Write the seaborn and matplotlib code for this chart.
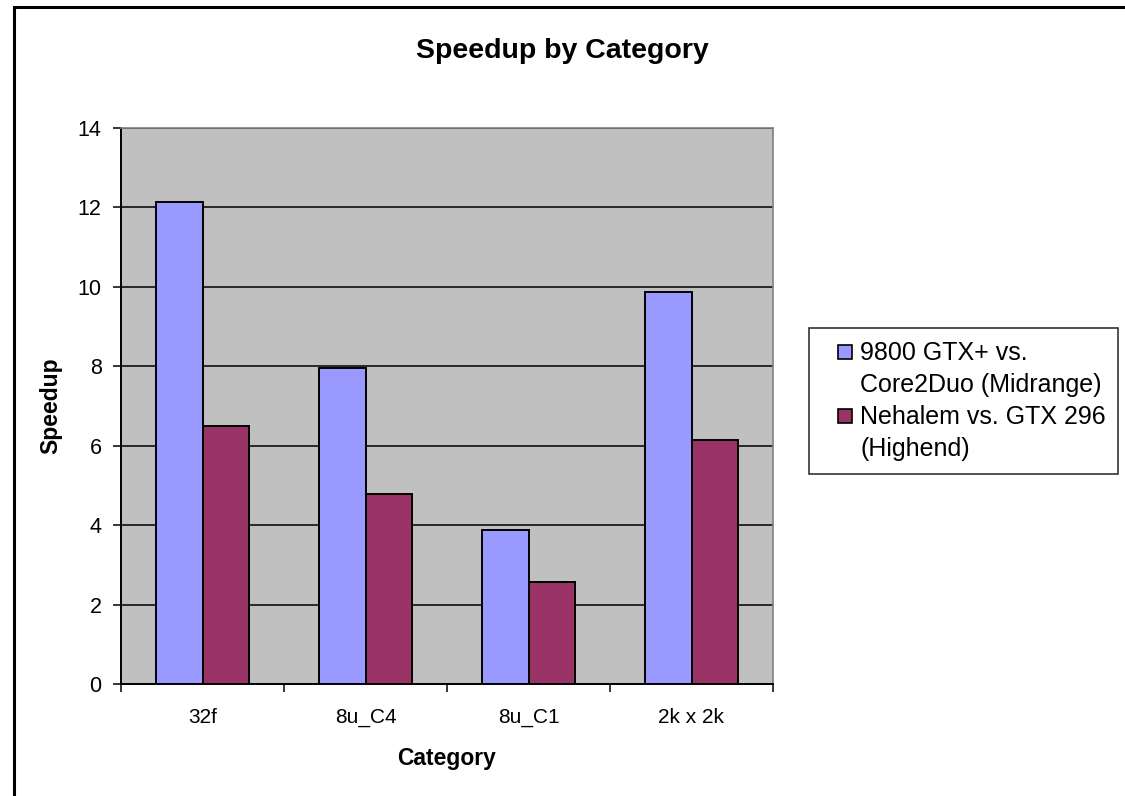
import numpy as np
import pandas as pd
import matplotlib
matplotlib.use("Agg")
import matplotlib.pyplot as plt
import seaborn as sns
from matplotlib.patches import Rectangle
from matplotlib.legend_handler import HandlerPatch

# data
categories = ['32f', '8u_C4', '8u_C1', '2k x 2k']
series_names = ['9800 GTX+ vs.\nCore2Duo (Midrange)', 'Nehalem vs. GTX 296\n(Highend)']
midrange = [12.13, 7.95, 3.88, 9.86]
highend = [6.49, 4.78, 2.57, 6.14]
colors = ['#9999FF', '#993366']

df = pd.DataFrame({
    'Category': categories * 2,
    'Speedup': midrange + highend,
    'Series': [series_names[0]] * 4 + [series_names[1]] * 4,
})

sns.set_style("white")
plt.rcParams['font.family'] = ['Liberation Sans', 'DejaVu Sans']
plt.rcParams.update({'text.color': 'black', 'axes.labelcolor': 'black',
                     'xtick.color': 'black', 'ytick.color': 'black'})

fig = plt.figure(figsize=(11.25, 7.96), dpi=100)
ax = fig.add_axes([121 / 1125, 1 - 684 / 796, (773 - 121) / 1125, (684 - 128) / 796])
ax.set_facecolor('#C0C0C0')

sns.barplot(data=df, x='Category', y='Speedup', hue='Series', order=categories,
            hue_order=series_names, palette=colors, width=0.572, gap=0,
            edgecolor='black', linewidth=1.4, saturation=1, ax=ax, zorder=3)

ax.set_ylim(0, 14)
ax.set_xlim(-0.5, 3.5)
ax.set_yticks(np.arange(0, 15, 2))
ax.yaxis.grid(True, color='black', linewidth=1.1, zorder=1)
ax.set_axisbelow(True)

# Excel-style ticks between categories
ax.set_xticks(np.arange(-0.5, 4, 1), minor=True)
ax.tick_params(axis='x', which='major', length=0, pad=17.5, labelsize=15, labelcolor='black')
ax.tick_params(axis='x', which='minor', length=6, width=1.1, direction='out', color='black')
ax.tick_params(axis='y', length=6, width=1.1, direction='out', color='black',
               labelcolor='black', labelsize=15.5, pad=8)
ax.xaxis.set_ticks_position('bottom')
ax.yaxis.set_ticks_position('left')

for side in ['left', 'bottom']:
    ax.spines[side].set_color('black')
    ax.spines[side].set_linewidth(1.4)
for side in ['top', 'right']:
    ax.spines[side].set_color('#808080')
    ax.spines[side].set_linewidth(1.2)

ax.set_xlabel('Category', fontsize=16.5, fontweight='bold', labelpad=14, color='black')
ax.set_ylabel('Speedup', fontsize=16.5, fontweight='bold', color='black')
ax.yaxis.set_label_coords(-0.09, 0.5)

fig.text(0.5, 1 - 51 / 796, 'Speedup by Category', ha='center', va='center',
         fontsize=20.5, fontweight='bold', color='black')


# small square marker sitting at the right of the handle box, level with the first text line
def square_patch(legend, orig_handle, xdescent, ydescent, width, height, fontsize):
    s = 10
    return Rectangle((width - s - xdescent, (height - s) / 2 - ydescent + 12.5), s, s)


leg = ax.legend(loc='upper left', bbox_to_anchor=(809 / 1125, 1 - 328 / 796),
                bbox_transform=fig.transFigure, frameon=True, fancybox=False,
                fontsize=18, handlelength=1.22, handleheight=0.7, handletextpad=0.32,
                borderpad=0.5, labelspacing=0.3, borderaxespad=0,
                handler_map={matplotlib.patches.Rectangle: HandlerPatch(patch_func=square_patch)})
for t in leg.get_texts():
    t.set_linespacing(1.45)
    t.set_color('black')
for h in leg.legend_handles:
    h.set_edgecolor('black')
    h.set_linewidth(1.2)
leg.get_frame().set_edgecolor('black')
leg.get_frame().set_linewidth(1.2)
leg.get_frame().set_facecolor('white')
leg.set_title(None)

# outer chart border
fig.patches.append(Rectangle((13.5 / 1125, -0.05), 1.2, 1 - 6.5 / 796 + 0.05,
                             transform=fig.transFigure, fill=False,
                             edgecolor='black', linewidth=2.2, zorder=0))

fig.savefig('out.png', dpi=100)
